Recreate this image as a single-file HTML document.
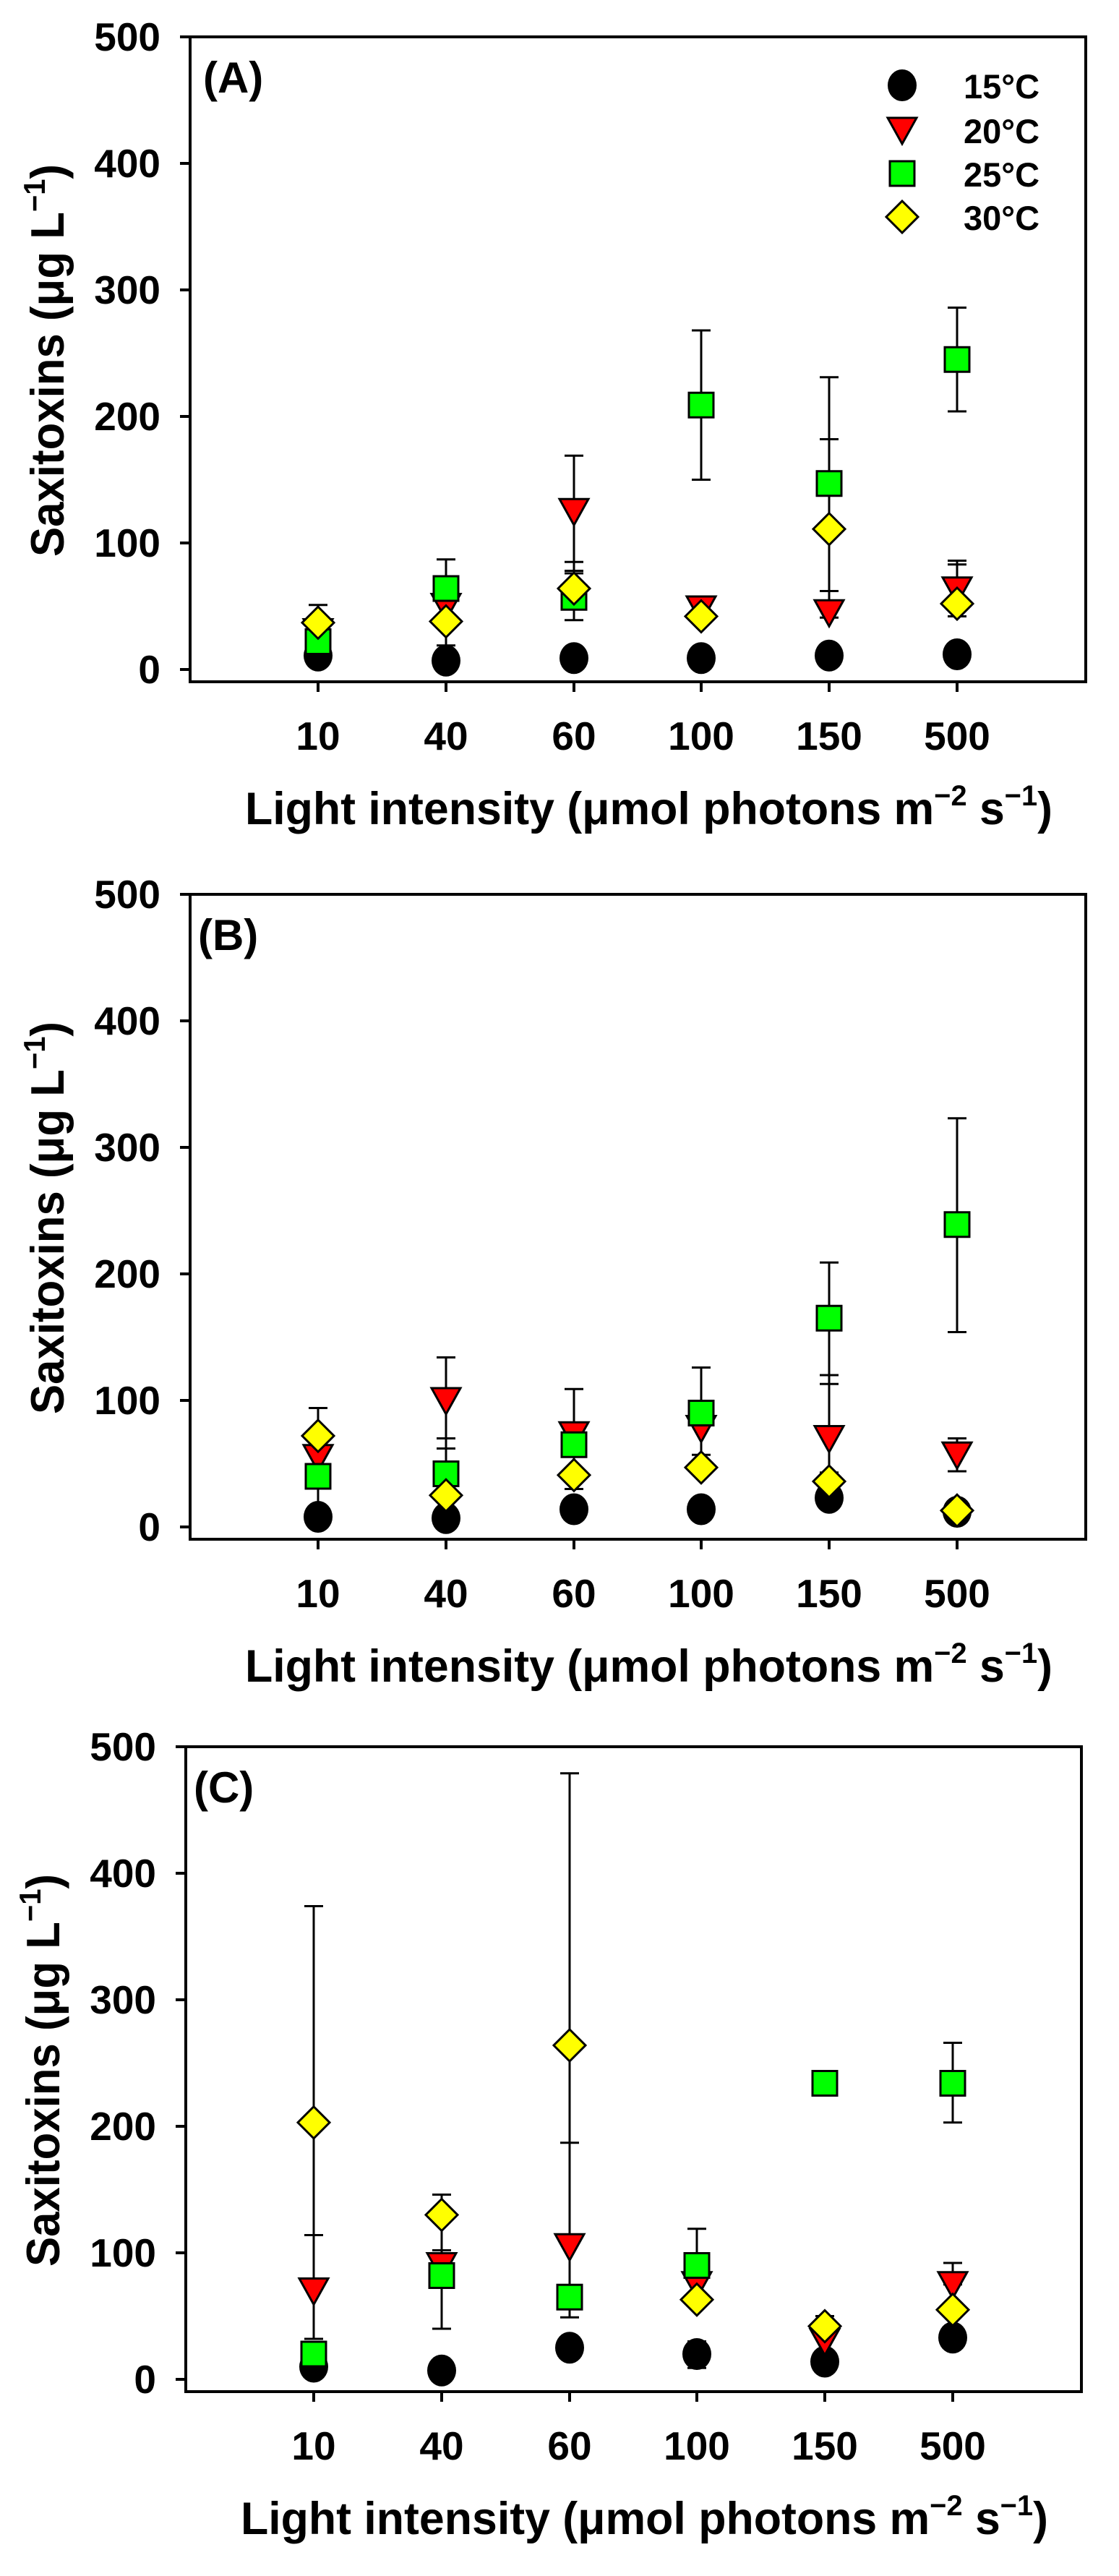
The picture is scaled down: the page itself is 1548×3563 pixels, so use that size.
<!DOCTYPE html>
<html><head><meta charset="utf-8"><style>html,body{margin:0;padding:0;background:#fff}svg{display:block}text{font-family:"Liberation Sans",Arial,sans-serif;font-weight:bold;fill:#000}</style></head>
<body>
<svg id="s" width="1548" height="3563" xmlns="http://www.w3.org/2000/svg">
<rect width="1548" height="3563" fill="#fff"/>
<g id="pA">
 <text x="281" y="128" font-size="60">(A)</text>
 <text x="1333" y="136" font-size="47">15°C</text>
 <text x="1333" y="198" font-size="47">20°C</text>
 <text x="1333" y="258" font-size="47">25°C</text>
 <text x="1333" y="318" font-size="47">30°C</text>
</g>
<g id="pB" transform="translate(0,1186)">
 <text x="274" y="128" font-size="60">(B)</text>
</g>
<g id="pC" transform="translate(-6,2365)">
 <text x="274" y="128" font-size="60">(C)</text>
</g>
<g id="common">
 <g class="ax" transform="translate(0,0)">
  <text x="222" y="945" font-size="55" text-anchor="end">0</text>
  <text x="222" y="770" font-size="55" text-anchor="end">100</text>
  <text x="222" y="595" font-size="55" text-anchor="end">200</text>
  <text x="222" y="420" font-size="55" text-anchor="end">300</text>
  <text x="222" y="245" font-size="55" text-anchor="end">400</text>
  <text x="222" y="70" font-size="55" text-anchor="end">500</text>
  <text x="440" y="1037" font-size="55" text-anchor="middle">10</text>
  <text x="617" y="1037" font-size="55" text-anchor="middle">40</text>
  <text x="794" y="1037" font-size="55" text-anchor="middle">60</text>
  <text x="970" y="1037" font-size="55" text-anchor="middle">100</text>
  <text x="1147" y="1037" font-size="55" text-anchor="middle">150</text>
  <text x="1324" y="1037" font-size="55" text-anchor="middle">500</text>
  <text x="339" y="1140" font-size="63" textLength="1117" lengthAdjust="spacingAndGlyphs">Light intensity (μmol photons m<tspan dy="-26" font-size="40">−2</tspan><tspan dy="26"> s</tspan><tspan dy="-26" font-size="40">−1</tspan><tspan dy="26">)</tspan></text>
  <text transform="translate(88,770) rotate(-90)" font-size="65" textLength="543" lengthAdjust="spacingAndGlyphs">Saxitoxins (μg L<tspan dy="-26" font-size="42">−1</tspan><tspan dy="26">)</tspan></text>
 </g>
</g>
</svg>
<script>
(function(){
var NS="http://www.w3.org/2000/svg";
var ax=document.querySelector('#common .ax');
function el(p,t,a){var e=document.createElementNS(NS,t);for(var k in a)e.setAttribute(k,a[k]);p.appendChild(e);return e;}
var X=[440,617,794,970,1147,1324],Y0=926,S=1.75;
function y(v){return Y0-v*S;}
function marker(g,k,x,yy){
 if(k==0) el(g,'ellipse',{cx:x,cy:yy,rx:20,ry:22,fill:'#000'});
 else if(k==1) el(g,'polygon',{points:(x-20)+','+(yy-17)+' '+(x+20)+','+(yy-17)+' '+x+','+(yy+19),fill:'#f00',stroke:'#000','stroke-width':3});
 else if(k==2) el(g,'rect',{x:x-17,y:yy-17,width:34,height:34,fill:'#0f0',stroke:'#000','stroke-width':3});
 else el(g,'polygon',{points:x+','+(yy-22)+' '+(x+22)+','+yy+' '+x+','+(yy+22)+' '+(x-22)+','+yy,fill:'#ff0',stroke:'#000','stroke-width':3});
}
var panels=[
 {id:'pA',
  data:[[11,7,9,9,11,12],[30,50,125,48,45,63],[22,64,57,209,147,245],[37,38,64,42,111,52]],
  bars:[[[25,51]],[[19,87],[57]],[[39,169],[85],[78],[76]],[[150,268]],[[41,231],[182],[62]],[[204,286]],[[42,86],[83]]],
  legend:true},
 {id:'pB',
  data:[[8,7,14,14,23,12],[55,100,73,78,70,57],[40,42,65,90,165,239],[72,25,41,47,36,13]],
  bars:[[[8,94]],[[20,134],[70],[62],[48]],[[30,109],[76],[74]],[[57,126]],[[43,209],[120],[113]],[[44,70],[154,323]]]},
 {id:'pC',
  data:[[10,7,25,20,14,33],[70,90,105,75,30,75],[20,82,65,90,234,234],[203,130,264,63,42,55]],
  bars:[[[32,374],[114]],[[40,146],[102]],[[49,479],[187]],[[9,30],[90,119]],[[40,50]],[[203,266],[75,92]]]}
];
panels.forEach(function(p){
 var g=document.getElementById(p.id);
 if(p.id!='pA'){var c=ax.cloneNode(true);g.insertBefore(c,g.firstChild);} else g.insertBefore(ax,g.firstChild);
 el(g,'rect',{x:263,y:51,width:1239,height:892,fill:'none',stroke:'#000','stroke-width':4});
 for(var i=0;i<=5;i++){var yy=y(i*100);el(g,'line',{x1:249,x2:263,y1:yy,y2:yy,stroke:'#000','stroke-width':4});}
 X.forEach(function(x){el(g,'line',{x1:x,x2:x,y1:943,y2:957,stroke:'#000','stroke-width':4});});
 var bars=p.bars;
 if(p.id=='pA'){bars=[bars[0],bars[1],bars[2],bars[3],bars[4],bars[5].concat(bars[6])];}
 bars.forEach(function(bs,i){var x=X[i];bs.forEach(function(b){
   if(b.length==2) el(g,'line',{x1:x,x2:x,y1:y(b[0]),y2:y(b[1]),stroke:'#000','stroke-width':3});
   b.forEach(function(v){el(g,'line',{x1:x-13,x2:x+13,y1:y(v),y2:y(v),stroke:'#000','stroke-width':3});});
 });});
 for(var k=0;k<4;k++) for(var i=0;i<6;i++) marker(g,k,X[i],y(p.data[k][i]));
 if(p.legend){[118,180,240,300].forEach(function(yy,k){marker(g,k,1248,yy);});}
});
})();
</script>
</body></html>
